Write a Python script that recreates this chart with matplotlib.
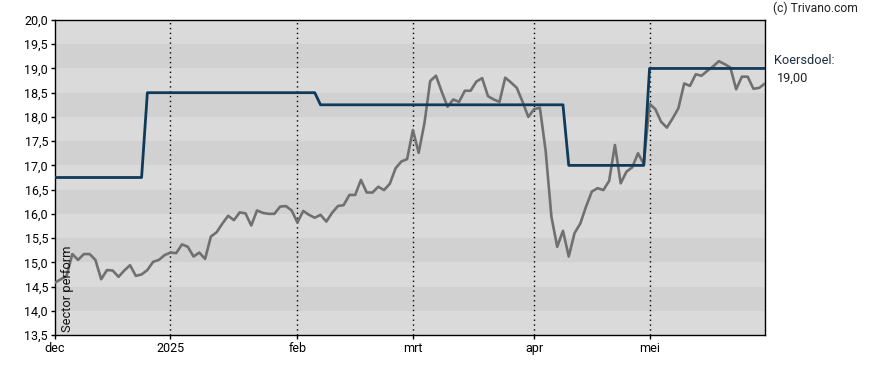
import matplotlib
matplotlib.use("Agg")
import matplotlib.pyplot as plt
import numpy as np

plt.rcParams['font.family'] = ['Roboto', 'DejaVu Sans']

# Trading-day index data
price = [14.58, 14.65, 14.72, 15.17, 15.05, 15.17, 15.17, 15.05, 14.65, 14.84,
         14.83, 14.70, 14.83, 14.94, 14.72, 14.75, 14.84, 15.01, 15.05, 15.15,
         15.20, 15.19, 15.37, 15.32, 15.12, 15.20, 15.07, 15.53, 15.62, 15.80,
         15.96, 15.87, 16.03, 16.01, 15.76, 16.07, 16.02, 16.00, 16.00, 16.15,
         16.16, 16.07, 15.82, 16.06, 15.98, 15.92, 15.98, 15.84, 16.02, 16.16,
         16.18, 16.39, 16.39, 16.70, 16.44, 16.44, 16.56, 16.49, 16.62, 16.94,
         17.08, 17.13, 17.73, 17.26, 17.87, 18.74, 18.85, 18.52, 18.21, 18.36,
         18.31, 18.54, 18.54, 18.73, 18.80, 18.43, 18.36, 18.31, 18.81, 18.71,
         18.60, 18.31, 18.00, 18.16, 18.19, 17.30, 15.94, 15.32, 15.65, 15.12,
         15.60, 15.80, 16.15, 16.46, 16.53, 16.49, 16.68, 17.42, 16.63, 16.87,
         16.96, 17.25, 17.03, 18.27, 18.16, 17.90, 17.78, 17.97, 18.18, 18.69,
         18.64, 18.88, 18.85, 18.95, 19.04, 19.15, 19.09, 19.02, 18.57, 18.83,
         18.83, 18.58, 18.60, 18.69]

# Price target (koersdoel) change points: index where each level starts
target_start_idx = [0, 16, 46, 89, 103]
target_levels = [16.75, 18.50, 18.25, 17.00, 19.00]

month_tick_idx = [0, 20, 42, 62, 83, 103]
month_labels = ['dec', '2025', 'feb', 'mrt', 'apr', 'mei']

y_ticks = [13.5, 14.0, 14.5, 15.0, 15.5, 16.0, 16.5, 17.0, 17.5, 18.0, 18.5, 19.0, 19.5, 20.0]

n = len(price)
x = np.arange(n)

# build target series
target = np.empty(n)
for i, s in enumerate(target_start_idx):
    e = target_start_idx[i + 1] if i + 1 < len(target_start_idx) else n
    target[s:e] = target_levels[i]

fig = plt.figure(figsize=(8.88, 3.70), dpi=100)
ax = fig.add_axes([55/888, 35/370, 710/888, 315/370])

ax.set_xlim(0, n - 1)
ax.set_ylim(13.5, 20.0)

# alternating bands
ax.set_facecolor('#dadada')
for k in range(len(y_ticks) - 1):
    lo, hi = y_ticks[k], y_ticks[k + 1]
    if k % 2 == 1:
        ax.axhspan(lo, hi, color='#d1d1d1', lw=0, zorder=0)

for t in month_tick_idx[1:]:
    ax.axvline(t, color='black', lw=1, ls=(0, (1, 2.5)), zorder=1)

ax.plot(x, price, color='#707070', lw=1.9, zorder=3)
ax.plot(x, target, color='#0f3a5a', lw=2, zorder=4)

ax.set_yticks(y_ticks)
ax.set_yticklabels([f"{v:.1f}".replace('.', ',') for v in y_ticks])
ax.set_xticks(month_tick_idx)
ax.set_xticklabels(month_labels)
ax.tick_params(axis='both', direction='out', length=3, width=1, labelsize=9,
               colors='black', pad=2)
for sp in ax.spines.values():
    sp.set_color('black')
    sp.set_linewidth(1)

ax.text(0.009, 0.01, 'Sector perform', rotation=90, transform=ax.transAxes,
        ha='left', va='bottom', fontsize=9.3, color='#111111', zorder=5)

fig.text(773/888, 1 - 8/370, '(c) Trivano.com', ha='left', va='center',
         fontsize=8.7, color='#222222')
fig.text(774/888, 1 - 60/370, 'Koersdoel:', ha='left', va='center',
         fontsize=9.2, color='#1c2f40')
fig.text(777/888, 1 - 78/370, f"{target_levels[-1]:.2f}".replace('.', ','),
         ha='left', va='center', fontsize=9.2, color='#222222')

fig.savefig('out.png', dpi=100)
